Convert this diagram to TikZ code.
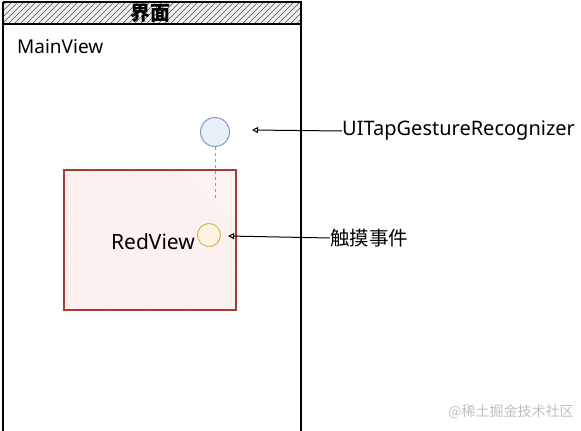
\documentclass[tikz,border=0pt]{standalone}
\usepackage{fontspec}
\setmainfont{Noto Sans}
\newfontfamily\cjk{Noto Sans CJK SC}
\usetikzlibrary{arrows.meta}
\definecolor{redline}{HTML}{A83A32}
\definecolor{redfill}{HTML}{FCF3F2}
\definecolor{blueline}{HTML}{7F9DC4}
\definecolor{bluefill}{HTML}{EAF0F8}
\definecolor{yelline}{HTML}{D8B651}
\definecolor{yelfill}{HTML}{FCF5E4}
\tikzset{
  lbl/.style={inner sep=0pt, anchor=west, font=\fontsize{20}{24}\selectfont},
  conn/.style={draw=black, line width=1pt, -{Triangle[open,length=6pt,width=6pt]}},
  dot/.style={circle, line width=1pt, inner sep=0pt},
}
\begin{document}
\begin{tikzpicture}[x=1pt,y=-1pt]
\useasboundingbox (0,0) rectangle (581,431);
% header hatch
\begin{scope}
\clip (3,2) rectangle (301,24);
\fill[gray!12] (3,2) rectangle (301,24);
\foreach \i in {-30,-24,...,320} \draw[gray!60!black, line width=0.5pt] (\i,26) -- (\i+26,0);
\end{scope}
\node[inner sep=0pt, font=\cjk\bfseries\fontsize{20}{22}\selectfont] (title) at (150,13) {界面};
% main frame
\draw[line width=1.1pt] (3,2) -- (301,2) -- (301,431);
\draw[line width=1.1pt] (3,2) -- (3,431);
\draw[line width=1.1pt] (3,24) -- (301,24);
\node[lbl, font=\fontsize{19}{22}\selectfont] (main) at (17,47) {MainView};
% red view
\begin{scope}
\clip (64,170) rectangle (236,310);
\fill[redfill] (64,170) rectangle (236,310);
\foreach \i in {0,5,...,330} \draw[redline!10, line width=0.5pt] (\i,320) -- (\i-150,170);
\end{scope}
\draw[redline, line width=1.1pt] (64,170) rectangle (236,310);
\node[lbl, anchor=center, font=\fontsize{21}{24}\selectfont] (red) at (153,242) {RedView};
% circles
\node[dot, draw=blueline, fill=bluefill, minimum size=29pt] (tap) at (215,132) {};
\node[dot, draw=yelline, fill=yelfill, minimum size=23pt] (touch) at (209,235) {};
\draw[blueline, dashed, line width=0.8pt] (tap.south) -- (215,200);
% labels
\node[lbl] (gr) at (342,131) {UITapGestureRecognizer};
\node[lbl, font=\cjk\fontsize{19.5}{22}\selectfont] (ev) at (330,238) {触摸事件};
\coordinate (a1) at (252,130);
\coordinate (a2) at (228,236);
\draw[conn] (gr.west) -- (a1);
\draw[conn] (ev.west) -- (a2);
\node[inner sep=0pt, text=gray!50, font=\cjk\fontsize{14}{16}\selectfont] (wm) at (511,412) {@稀土掘金技术社区};
\end{tikzpicture}
\end{document}
